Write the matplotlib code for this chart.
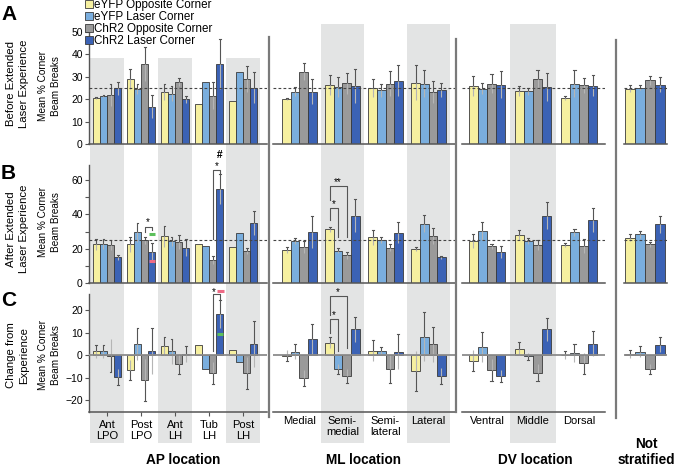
import matplotlib
matplotlib.use("Agg")
import matplotlib.pyplot as plt
import numpy as np
from matplotlib.patches import Rectangle, Patch
from matplotlib.lines import Line2D
from matplotlib.transforms import blended_transform_factory

plt.rcParams['font.family'] = ['Liberation Sans', 'DejaVu Sans']

# ---------------- data ----------------
series = ["eYFP Opposite Corner", "eYFP Laser Corner", "ChR2 Opposite Corner", "ChR2 Laser Corner"]
colors = ["#f6f0a0", "#7aaede", "#9a9a9a", "#3b62b5"]

ap_cats = ["Ant\nLPO", "Post\nLPO", "Ant\nLH", "Tub\nLH", "Post\nLH"]
ml_cats = ["Medial", "Semi-\nmedial", "Semi-\nlateral", "Lateral"]
dv_cats = ["Ventral", "Middle", "Dorsal"]
ns_cats = [""]

# Panel A: before extended laser experience (rows = categories, cols = series)
ap_a = [[20.7, 21.3, 21.9, 24.8], [29.0, 24.5, 35.7, 16.7], [23.1, 22.5, 27.8, 20.0],
        [17.8, 27.6, 21.6, 35.7], [19.1, 32.1, 29.0, 25.2]]
ap_a_err = [[0.4, 0.5, 4.8, 2.8], [4.4, 2.2, 7.4, 5.1], [3.6, 3.3, 1.8, 1.6],
            [0, 0, 6.1, 11.2], [0, 0, 5.6, 6.9]]
ml_a = [[20.2, 23.3, 32.2, 23.3], [26.5, 25.6, 27.1, 25.9], [25.2, 23.9, 27.0, 28.3],
        [27.4, 27.0, 23.3, 24.2]]
ml_a_err = [[0.4, 2.0, 3.8, 5.5], [4.5, 4.4, 4.7, 7.4], [4.0, 2.9, 5.4, 6.8],
            [7.7, 6.0, 5.0, 3.2]]
dv_a = [[25.8, 24.7, 27.0, 26.5], [23.6, 23.5, 28.8, 25.6], [20.6, 27.0, 26.2, 26.0]]
dv_a_err = [[4.4, 2.6, 4.4, 5.9], [2.3, 1.7, 4.4, 6.2], [0.8, 5.9, 3.3, 4.6]]
ns_a = [[24.7, 25.2, 28.5, 26.5]]
ns_a_err = [[1.5, 1.3, 2.0, 3.5]]

# Panel B: after extended laser experience
ap_b = [[22.6, 22.8, 22.2, 15.1], [22.6, 29.6, 25.0, 18.3], [27.3, 24.4, 24.0, 20.7],
        [22.6, 21.8, 13.6, 54.6], [21.3, 29.4, 18.8, 35.0]]
ap_b_err = [[3.0, 2.9, 2.9, 1.4], [4.2, 5.4, 2.0, 5.4], [6.0, 2.8, 3.8, 5.0],
            [0, 0, 2.5, 8.7], [0, 0, 2.0, 7.2]]
ml_b = [[19.4, 24.6, 21.3, 29.8], [31.3, 19.0, 16.3, 39.2], [26.7, 25.2, 20.6, 29.4],
        [20.0, 34.6, 27.5, 15.0]]
ml_b_err = [[1.6, 1.7, 3.5, 9.2], [1.7, 1.4, 2.0, 9.6], [4.3, 1.9, 2.1, 6.0],
            [1.3, 5.0, 4.4, 0.6]]
dv_b = [[24.6, 30.4, 21.5, 18.4], [28.1, 24.8, 22.1, 39.3], [22.1, 29.7, 21.7, 36.8]]
dv_b_err = [[3.9, 5.1, 1.4, 3.5], [3.1, 1.8, 2.9, 8.0], [1.2, 2.1, 3.9, 7.2]]
ns_b = [[26.4, 28.5, 22.7, 34.3]]
ns_b_err = [[2.1, 2.1, 1.5, 5.0]]

# Panel C: change from experience
ap_c = [[1.6, 1.6, -0.3, -9.8], [-6.8, 5.0, -11.0, 1.6], [4.1, 1.6, -4.0, 0.6],
        [4.6, -6.2, -8.0, 18.4], [2.1, -3.0, -8.0, 5.0]]
ap_c_err = [[3.0, 2.7, 7.4, 3.5], [4.5, 7.1, 9.4, 10.2], [3.9, 5.7, 4.6, 3.5],
            [0, 0, 4.7, 6.2], [0, 0, 7.3, 10.2]]
ml_c = [[-0.3, 1.5, -10.3, 7.0], [5.5, -6.2, -9.2, 11.4], [2.0, 2.0, -6.2, 1.5],
        [-7.0, 8.2, 4.8, -9.2]]
ml_c_err = [[2.5, 3.3, 3.6, 7.0], [2.4, 2.4, 3.1, 5.6], [4.7, 1.7, 6.1, 7.9],
            [9.0, 10.8, 7.7, 3.6]]
dv_c = [[-2.5, 3.7, -6.6, -9.2], [2.8, -0.5, -7.9, 11.4], [0.2, 1.0, -3.6, 5.0]]
dv_c_err = [[4.8, 6.7, 4.8, 2.7], [2.8, 1.5, 3.7, 5.2], [1.8, 4.0, 4.7, 5.6]]
ns_c = [[0.3, 1.5, -6.2, 4.6]]
ns_c_err = [[1.8, 2.4, 2.4, 3.4]]

chance_level = 25

# ---------------- layout ----------------
W, H = 675, 466
fig = plt.figure(figsize=(W / 100, H / 100), dpi=100)


def fx(px):
    return px / W


def fy(py):
    return 1 - py / H


cols = [
    dict(l=89, r=267, xlim=(-0.53, 4.70), bw=0.21, cats=ap_cats, bands=[0, 2, 4], btop=58,
         data=[(ap_a, ap_a_err), (ap_b, ap_b_err), (ap_c, ap_c_err)]),
    dict(l=273, r=455, xlim=(-0.616, 3.616), bw=0.2, cats=ml_cats, bands=[1, 3], btop=24,
         data=[(ml_a, ml_a_err), (ml_b, ml_b_err), (ml_c, ml_c_err)]),
    dict(l=462, r=605, xlim=(-0.543, 2.565), bw=0.2, cats=dv_cats, bands=[1], btop=24,
         data=[(dv_a, dv_a_err), (dv_b, dv_b_err), (dv_c, dv_c_err)]),
    dict(l=624, r=667, xlim=(-0.42, 0.44), bw=0.2, cats=ns_cats, bands=[], btop=24,
         data=[(ns_a, ns_a_err), (ns_b, ns_b_err), (ns_c, ns_c_err)]),
]
rows = [
    dict(top=27.5, bot=144.0, ylim=(0, 52)),
    dict(top=164.6, bot=283.3, ylim=(0, 69)),
    dict(top=294.3, bot=412.4, ylim=(-25.5, 27)),
]

offsets = np.array([-1.5, -0.5, 0.5, 1.5])
axes = [[None] * 4 for _ in range(3)]

for ci, col in enumerate(cols):
    for ri, row in enumerate(rows):
        ax = fig.add_axes([fx(col['l']), fy(row['bot']), fx(col['r'] - col['l']),
                           (row['bot'] - row['top']) / H])
        ax.set_facecolor('none')
        axes[ri][ci] = ax
        vals, errs = col['data'][ri]
        bw = col['bw']
        x = np.arange(len(vals))
        for si in range(4):
            v = np.array([g[si] for g in vals])
            e = np.array([g[si] for g in errs])
            xs = x + offsets[si] * bw
            ax.bar(xs, v, width=bw, color=colors[si], edgecolor='#3a3a3a', linewidth=0.6,
                   zorder=2)
            for xx, vv, ee in zip(xs, v, e):
                if ee <= 0:
                    continue
                s = 1 if vv >= 0 else -1
                ax.vlines(xx, vv, vv + s * ee, color='#555555', lw=0.8, zorder=3)
                ax.vlines(xx, vv - s * ee, vv, color='#b5b5b5', lw=0.8, zorder=3)
                ax.plot([xx - bw * 0.12, xx + bw * 0.12], [vv + s * ee] * 2,
                        color='#555555', lw=0.8, zorder=3)
        ax.set_xlim(*col['xlim'])
        ax.set_ylim(*row['ylim'])
        for sp in ['top', 'right']:
            ax.spines[sp].set_visible(False)
        if ci != 0:
            ax.spines['left'].set_visible(False)
            ax.set_yticks([])
        else:
            ax.spines['left'].set_color('#555555')
            ax.spines['left'].set_linewidth(1.0)
            ax.tick_params(axis='y', length=3, width=0.8, color='#555555', labelsize=7.5, pad=1.5)
        ax.spines['bottom'].set_color('#555555')
        ax.spines['bottom'].set_linewidth(1.1)
        if ri < 2:
            ax.axhline(chance_level, color='#444444', lw=0.8, ls=(0, (2.5, 2)), zorder=4)
            ax.set_xticks([])
        else:
            ax.axhline(0, color='#8c8c8c', lw=1.3, zorder=4)
            if ci == 3:
                ax.spines['bottom'].set_visible(False)
                ax.set_xticks([])
            else:
                ax.set_xticks(x)
                ax.set_xticklabels(col['cats'], fontsize=8, linespacing=1.15)
                ax.tick_params(axis='x', length=3 if ci == 0 else 0, width=0.8,
                               color='#555555', pad=2.5)

# y ticks of AP column
axes[0][0].set_yticks(np.arange(0, 51, 10))
axes[1][0].set_yticks(np.arange(0, 61, 20))
axes[1][0].set_yticks(np.arange(10, 60, 20), minor=True)
axes[1][0].tick_params(axis='y', which='minor', length=3, width=0.8, color='#555555')
axes[2][0].set_yticks(np.arange(-20, 21, 10))

# background bands
for col, axc in zip(cols, axes[2]):
    tr = blended_transform_factory(axc.transData, fig.transFigure)
    for b in col['bands']:
        rect = Rectangle((b - 0.5, fy(443)), 1.0, (443 - col['btop']) / H, transform=tr,
                         facecolor='#e3e4e4', edgecolor='none', zorder=-5)
        fig.add_artist(rect)

# separators
for xp, y0, y1 in [(269, 37, 417), (456, 39, 412), (616, 40, 418)]:
    fig.add_artist(Line2D([fx(xp), fx(xp)], [fy(y0), fy(y1)], color='#7a7a7a', lw=1.6))

# legend
handles = [Patch(facecolor=c, edgecolor='#3a3a3a', linewidth=0.6, label=s) for c, s in zip(colors, series)]
fig.legend(handles=handles, loc='upper left', bbox_to_anchor=(fx(85), fy(-1.0)),
           bbox_transform=fig.transFigure, frameon=False, fontsize=8.4, handlelength=0.65,
           handleheight=0.65, handletextpad=0.15, labelspacing=0.0, borderpad=0,
           borderaxespad=0)

# panel letters and row labels
for letter, yp in [('A', 15), ('B', 173), ('C', 300)]:
    fig.text(fx(1), fy(yp), letter, fontsize=15, fontweight='bold', va='center', ha='left')
row_titles = ["Before Extended\nLaser Experience", "After Extended\nLaser Experience",
              "Change from\nExperience"]
for t, yc, yc2 in zip(row_titles, [84, 229, 355], [86, 222, 355]):
    fig.text(fx(17.5), fy(yc), t, rotation=90, fontsize=8.2, ha='center', va='center',
             linespacing=1.3)
    fig.text(fx(49.5), fy(yc2), "Mean % Corner\nBeam Breaks", rotation=90, fontsize=7.2,
             ha='center', va='center', linespacing=1.45)

# section titles
for t, xp, yp in [("AP location", 183, 460), ("ML location", 363, 460), ("DV location", 535, 460)]:
    fig.text(fx(xp), fy(yp), t, fontsize=9.8, fontweight='bold', ha='center', va='center')
fig.text(fx(646), fy(452), "Not\nstratified", fontsize=9.8, fontweight='bold', ha='center',
         va='center', linespacing=1.15)

# ---------------- significance annotations ----------------
anc = '#555555'


def xpos(col_i, grp, s):
    return grp + offsets[s] * cols[col_i]['bw']


def bracket(ax, x1, x2, ytop, y1, y2, label, ylab, color=anc):
    ax.plot([x1, x1, x2, x2], [y1, ytop, ytop, y2], color=color, lw=0.8, clip_on=False, zorder=5)
    ax.text((x1 + x2) / 2, ylab, label, ha='center', va='center', fontsize=7, clip_on=False)


def mark(ax, xc, y, w, color):
    ax.plot([xc - w / 2, xc + w / 2], [y, y], color=color, lw=2.2, solid_capstyle='butt',
            zorder=6, clip_on=False)


aA, aB, aC = axes[0][0], axes[1][0], axes[2][0]
bwap = cols[0]['bw']
aA.text(xpos(0, 3, 3), -5.0, "#", ha='center', va='center', fontsize=7)
bracket(aB, xpos(0, 1, 2), xpos(0, 1, 3), 32.5, 30.0, 31.0, "*", 35.3)
mark(aB, xpos(0, 1, 3), 28.5, bwap * 0.9, '#5cc05c')
mark(aB, xpos(0, 1, 3), 13.1, bwap * 0.9, '#ee6b86')
bracket(aB, xpos(0, 3, 2), xpos(0, 3, 3), 65.6, 25.8, 64.0, "*", 68.3)
aB.text(xpos(0, 3, 3), 74.7, "#", ha='center', va='center', fontsize=7)
bracket(aC, xpos(0, 3, 2), xpos(0, 3, 3), 27.0, 1.9, 25.0, "", 28)
aC.text(xpos(0, 3, 2) + 0.03, 27.8, "*", ha='center', va='center', fontsize=7)
mark(aC, xpos(0, 3, 3) + 0.02, 28.6, bwap * 0.9, '#ee6b86')
mark(aC, xpos(0, 3, 3), 9.3, bwap * 0.9, '#5cc05c')
mB, mC = axes[1][1], axes[2][1]
bracket(mB, xpos(1, 1, 0), xpos(1, 1, 1), 43.8, 37.0, 27.0, "*", 46.0)
bracket(mB, xpos(1, 1, 0), xpos(1, 1, 2), 56.8, 48.6, 27.0, "**", 59.0)
bracket(mC, xpos(1, 1, 0), xpos(1, 1, 1), 16.1, 10.0, 2.0, "*", 17.9)
bracket(mC, xpos(1, 1, 0), xpos(1, 1, 2), 26.2, 17.7, 3.0, "*", 28.0)

fig.savefig("out.png", dpi=100)
